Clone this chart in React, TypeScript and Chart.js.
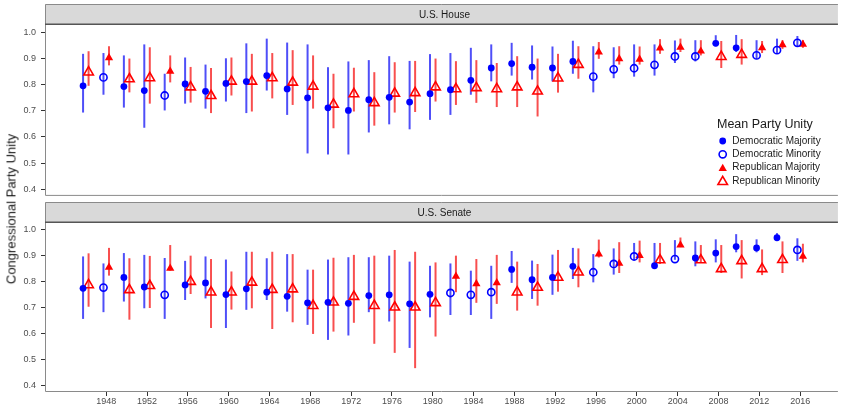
import React, { useEffect, useRef } from "react";
import { Chart, registerables } from "chart.js";

Chart.register(...registerables);

// ---------- DATA ----------
const years = [
  1946, 1948, 1950, 1952, 1954, 1956, 1958, 1960, 1962, 1964, 1966, 1968,
  1970, 1972, 1974, 1976, 1978, 1980, 1982, 1984, 1986, 1988, 1990, 1992,
  1994, 1996, 1998, 2000, 2002, 2004, 2006, 2008, 2010, 2012, 2014, 2016,
];
const xTickYears = [1948, 1952, 1956, 1960, 1964, 1968, 1972, 1976, 1980, 1984, 1988, 1992, 1996, 2000, 2004, 2008, 2012, 2016];
const yTickValues = [0.4, 0.5, 0.6, 0.7, 0.8, 0.9, 1.0];

// U.S. House
const houseDem = [0.795, 0.827, 0.792, 0.777, 0.758, 0.802, 0.774, 0.804, 0.811, 0.834, 0.783, 0.749, 0.711, 0.701, 0.742, 0.751, 0.733, 0.765, 0.780, 0.816, 0.863, 0.880, 0.866, 0.863, 0.888, 0.830, 0.858, 0.862, 0.875, 0.907, 0.907, 0.957, 0.940, 0.911, 0.931, 0.959];
const houseDemLo = [0.693, 0.761, 0.712, 0.635, 0.701, 0.727, 0.708, 0.735, 0.691, 0.777, 0.684, 0.537, 0.533, 0.533, 0.617, 0.648, 0.629, 0.665, 0.684, 0.761, 0.812, 0.834, 0.819, 0.812, 0.841, 0.770, 0.824, 0.830, 0.834, 0.882, 0.888, 0.946, 0.924, 0.898, 0.920, 0.946];
const houseDemHi = [0.917, 0.920, 0.911, 0.953, 0.841, 0.903, 0.876, 0.900, 0.957, 0.975, 0.960, 0.953, 0.866, 0.888, 0.893, 0.908, 0.890, 0.916, 0.920, 0.940, 0.953, 0.959, 0.949, 0.945, 0.967, 0.946, 0.942, 0.953, 0.953, 0.968, 0.969, 0.988, 0.989, 0.969, 0.975, 0.985];
const houseDemMajority = [1, 0, 1, 1, 0, 1, 1, 1, 1, 1, 1, 1, 1, 1, 1, 1, 1, 1, 1, 1, 1, 1, 1, 1, 1, 0, 0, 0, 0, 0, 0, 1, 1, 0, 0, 0];
const houseRep = [0.847, 0.902, 0.821, 0.825, 0.850, 0.790, 0.757, 0.812, 0.812, 0.825, 0.808, 0.793, 0.724, 0.764, 0.730, 0.766, 0.768, 0.790, 0.783, 0.787, 0.783, 0.790, 0.774, 0.824, 0.876, 0.924, 0.898, 0.896, 0.939, 0.942, 0.927, 0.906, 0.914, 0.940, 0.951, 0.953];
const houseRepLo = [0.795, 0.873, 0.770, 0.727, 0.808, 0.731, 0.691, 0.758, 0.697, 0.747, 0.722, 0.708, 0.633, 0.697, 0.643, 0.693, 0.695, 0.735, 0.722, 0.730, 0.714, 0.714, 0.678, 0.769, 0.822, 0.898, 0.876, 0.876, 0.917, 0.924, 0.911, 0.863, 0.876, 0.920, 0.936, 0.940];
const houseRepHi = [0.927, 0.946, 0.899, 0.942, 0.911, 0.867, 0.863, 0.903, 0.917, 0.920, 0.931, 0.911, 0.841, 0.864, 0.847, 0.885, 0.890, 0.899, 0.889, 0.893, 0.882, 0.908, 0.899, 0.917, 0.946, 0.962, 0.946, 0.945, 0.973, 0.975, 0.969, 0.966, 0.973, 0.966, 0.969, 0.969];

// U.S. Senate
const senateDem = [0.775, 0.778, 0.817, 0.780, 0.750, 0.788, 0.796, 0.751, 0.773, 0.760, 0.744, 0.719, 0.721, 0.717, 0.747, 0.750, 0.715, 0.752, 0.757, 0.750, 0.760, 0.848, 0.808, 0.817, 0.860, 0.837, 0.869, 0.898, 0.862, 0.888, 0.892, 0.911, 0.936, 0.931, 0.970, 0.923];
const senateDemLo = [0.657, 0.683, 0.724, 0.698, 0.657, 0.730, 0.736, 0.622, 0.692, 0.730, 0.685, 0.634, 0.576, 0.593, 0.683, 0.647, 0.545, 0.663, 0.672, 0.672, 0.657, 0.796, 0.734, 0.750, 0.811, 0.798, 0.828, 0.881, 0.858, 0.885, 0.860, 0.875, 0.914, 0.914, 0.963, 0.881];
const senateDemHi = [0.898, 0.871, 0.911, 0.904, 0.892, 0.881, 0.898, 0.886, 0.916, 0.891, 0.907, 0.847, 0.886, 0.895, 0.895, 0.901, 0.878, 0.862, 0.871, 0.843, 0.862, 0.919, 0.882, 0.905, 0.931, 0.907, 0.929, 0.950, 0.950, 0.961, 0.956, 0.964, 0.984, 0.964, 0.988, 0.968];
const senateDemMajority = [1, 0, 1, 1, 0, 1, 1, 1, 1, 1, 1, 1, 1, 1, 1, 1, 1, 1, 0, 0, 0, 1, 1, 1, 1, 0, 0, 0, 1, 0, 1, 1, 1, 1, 1, 0];
const senateRep = [0.788, 0.856, 0.769, 0.785, 0.852, 0.801, 0.760, 0.760, 0.798, 0.770, 0.772, 0.708, 0.721, 0.743, 0.708, 0.702, 0.702, 0.719, 0.821, 0.792, 0.796, 0.760, 0.778, 0.817, 0.837, 0.907, 0.871, 0.901, 0.884, 0.942, 0.884, 0.850, 0.881, 0.850, 0.885, 0.898];
const senateRepLo = [0.704, 0.824, 0.654, 0.699, 0.843, 0.753, 0.622, 0.693, 0.698, 0.618, 0.644, 0.599, 0.608, 0.642, 0.561, 0.526, 0.467, 0.589, 0.760, 0.719, 0.715, 0.689, 0.708, 0.762, 0.779, 0.894, 0.834, 0.875, 0.869, 0.934, 0.875, 0.834, 0.813, 0.826, 0.834, 0.875];
const senateRepHi = [0.910, 0.931, 0.891, 0.900, 0.942, 0.901, 0.888, 0.840, 0.916, 0.916, 0.907, 0.847, 0.893, 0.904, 0.901, 0.923, 0.916, 0.875, 0.901, 0.888, 0.904, 0.878, 0.869, 0.923, 0.929, 0.963, 0.953, 0.959, 0.950, 0.971, 0.942, 0.942, 0.961, 0.925, 0.956, 0.947];

const legendTitle = "Mean Party Unity";
const legendLabels = ["Democratic Majority", "Democratic Minority", "Republican Majority", "Republican Minority"];
const yAxisTitle = "Congressional Party Unity";

// ---------- STYLE ----------
const FONT = '"Liberation Sans", Arial, Helvetica, sans-serif';
const BLUE = "#0000ff";
const RED = "#ff0000";
const BLUE_BAR = "rgba(20,20,245,0.75)";
const RED_BAR = "rgba(245,20,20,0.75)";
const OFFSET = 0.27;
const X_MIN = 1942.0;
const X_MAX = 2019.7;
const Y_MIN = 0.375;
const Y_MAX = 1.027;

type Kind = "demMaj" | "demMin" | "repMaj" | "repMin";

function drawMarker(ctx: CanvasRenderingContext2D, kind: Kind, x: number, y: number) {
  ctx.save();
  ctx.beginPath();
  if (kind === "demMaj" || kind === "demMin") {
    const r = kind === "demMaj" ? 3.4 : 3.6;
    ctx.arc(x, y, r, 0, Math.PI * 2);
  } else {
    const r = kind === "repMaj" ? 4.8 : 5.5;
    ctx.moveTo(x, y - r);
    ctx.lineTo(x + 0.866 * r, y + 0.5 * r);
    ctx.lineTo(x - 0.866 * r, y + 0.5 * r);
    ctx.closePath();
  }
  const col = kind.startsWith("dem") ? BLUE : RED;
  if (kind.endsWith("Maj")) {
    ctx.fillStyle = col;
    ctx.fill();
  } else {
    ctx.strokeStyle = col;
    ctx.lineWidth = 1.6;
    ctx.stroke();
  }
  ctx.restore();
}

type PanelData = {
  title: string;
  dem: number[];
  demLo: number[];
  demHi: number[];
  demMaj: number[];
  rep: number[];
  repLo: number[];
  repHi: number[];
};

function makeChart(canvas: HTMLCanvasElement, d: PanelData, showX: boolean, showLegend: boolean) {
  const pick = (vals: number[], offset: number, cond: (i: number) => boolean) =>
    years.map((yr, i) => ({ x: yr + offset, y: vals[i], keep: cond(i) })).filter((p) => p.keep).map((p) => ({ x: p.x, y: p.y }));

  const datasets: any[] = [
    {
      data: pick(d.dem, -OFFSET, (i) => d.demMaj[i] === 1),
      pointStyle: "circle", pointRadius: 3.4, backgroundColor: BLUE, borderColor: BLUE, borderWidth: 0,
    },
    {
      data: pick(d.dem, -OFFSET, (i) => d.demMaj[i] === 0),
      pointStyle: "circle", pointRadius: 3.6, backgroundColor: "rgba(0,0,0,0)", borderColor: BLUE, borderWidth: 1.6,
    },
    {
      data: pick(d.rep, OFFSET, (i) => d.demMaj[i] === 0),
      pointStyle: "triangle", pointRadius: 4.8, backgroundColor: RED, borderColor: RED, borderWidth: 0,
    },
    {
      data: pick(d.rep, OFFSET, (i) => d.demMaj[i] === 1),
      pointStyle: "triangle", pointRadius: 5.5, backgroundColor: "rgba(0,0,0,0)", borderColor: RED, borderWidth: 1.6,
    },
  ];

  const panelPlugin = {
    id: "panel",
    beforeDraw(chart: any) {
      const { ctx, chartArea } = chart;
      const top = showX ? 2 : 4;
      ctx.save();
      ctx.fillStyle = "#d9d9d9";
      ctx.fillRect(chartArea.left, top, chartArea.right - chartArea.left, chartArea.top - top);
      ctx.strokeStyle = "#8a8a8a";
      ctx.lineWidth = 1;
      ctx.beginPath();
      ctx.moveTo(chartArea.left + 0.5, chartArea.top);
      ctx.lineTo(chartArea.left + 0.5, top + 0.5);
      ctx.lineTo(chartArea.right, top + 0.5);
      ctx.stroke();
      ctx.strokeStyle = "#555555";
      ctx.lineWidth = 1.6;
      ctx.beginPath();
      ctx.moveTo(chartArea.left, chartArea.top - 0.8);
      ctx.lineTo(chartArea.right, chartArea.top - 0.8);
      ctx.stroke();
      ctx.fillStyle = "#1a1a1a";
      ctx.font = `10px ${FONT}`;
      ctx.textAlign = "center";
      ctx.textBaseline = "middle";
      ctx.fillText(d.title, (chartArea.left + chartArea.right) / 2 + 3, (top + chartArea.top) / 2 + 0.5);
      ctx.restore();
    },
    beforeDatasetsDraw(chart: any) {
      const { ctx } = chart;
      const xs = chart.scales.x;
      const ys = chart.scales.y;
      ctx.save();
      ctx.lineWidth = 2;
      ctx.lineCap = "butt";
      years.forEach((yr, i) => {
        const xd = xs.getPixelForValue(yr - OFFSET);
        ctx.strokeStyle = BLUE_BAR;
        ctx.beginPath();
        ctx.moveTo(xd, ys.getPixelForValue(d.demLo[i]));
        ctx.lineTo(xd, ys.getPixelForValue(d.demHi[i]));
        ctx.stroke();
        const xr = xs.getPixelForValue(yr + OFFSET);
        ctx.strokeStyle = RED_BAR;
        ctx.beginPath();
        ctx.moveTo(xr, ys.getPixelForValue(d.repLo[i]));
        ctx.lineTo(xr, ys.getPixelForValue(d.repHi[i]));
        ctx.stroke();
      });
      ctx.restore();
    },
    afterDraw(chart: any) {
      const { ctx, chartArea } = chart;
      ctx.save();
      ctx.strokeStyle = "#8a8a8a";
      ctx.lineWidth = 1;
      ctx.beginPath();
      ctx.moveTo(chartArea.left + 0.5, chartArea.top);
      ctx.lineTo(chartArea.left + 0.5, chartArea.bottom - 0.5);
      ctx.lineTo(chartArea.right, chartArea.bottom - 0.5);
      ctx.stroke();
      if (showLegend) {
        ctx.fillStyle = "#1a1a1a";
        ctx.textBaseline = "middle";
        ctx.textAlign = "left";
        ctx.font = `12.5px ${FONT}`;
        ctx.fillText(legendTitle, 717, 125);
        ctx.font = `10px ${FONT}`;
        const kinds: Kind[] = ["demMaj", "demMin", "repMaj", "repMin"];
        const rowsY = [141, 154.3, 167.7, 181];
        kinds.forEach((k, i) => {
          const yOff = k.startsWith("rep") ? 0.8 : 0;
          drawMarker(ctx, k, 722.7, rowsY[i] + yOff);
          ctx.fillStyle = "#1a1a1a";
          ctx.fillText(legendLabels[i], 732.3, rowsY[i]);
        });
      }
      ctx.restore();
    },
  };

  return new Chart(canvas, {
    type: "scatter",
    data: { datasets },
    plugins: [panelPlugin],
    options: {
      animation: false,
      responsive: false,
      maintainAspectRatio: false,
      devicePixelRatio: 1,
      events: [],
      layout: { padding: { left: 0, right: 0, top: showX ? 23 : 25, bottom: showX ? 0 : 2 } },
      plugins: { legend: { display: false }, tooltip: { enabled: false } },
      elements: { point: { hoverRadius: 0 } },
      scales: {
        x: {
          type: "linear",
          display: showX,
          min: X_MIN,
          max: X_MAX,
          afterBuildTicks: (s: any) => {
            s.ticks = xTickYears.map((v) => ({ value: v }));
          },
          afterFit: (s: any) => {
            s.height = showX ? 14 : 0;
            s.paddingLeft = 0;
            s.paddingRight = 0;
          },
          grid: { display: true, drawOnChartArea: false, drawTicks: true, tickLength: 4, color: "#333333" },
          border: { display: false },
          ticks: {
            padding: 0,
            color: "#4d4d4d",
            font: { family: FONT, size: 9 },
            maxRotation: 0,
            autoSkip: false,
            callback: (v: any) => String(v),
          },
        },
        y: {
          type: "linear",
          min: Y_MIN,
          max: Y_MAX,
          afterBuildTicks: (s: any) => {
            s.ticks = yTickValues.map((v) => ({ value: v }));
          },
          afterFit: (s: any) => {
            s.width = 45;
            s.paddingTop = 0;
            s.paddingBottom = 0;
          },
          grid: { display: true, drawOnChartArea: false, drawTicks: true, tickLength: 4, color: "#333333" },
          border: { display: false },
          ticks: {
            padding: 5,
            color: "#4d4d4d",
            font: { family: FONT, size: 9 },
            autoSkip: false,
            callback: (v: any) => Number(v).toFixed(1),
          },
        },
      },
    } as any,
  });
}

const houseData: PanelData = {
  title: "U.S. House",
  dem: houseDem, demLo: houseDemLo, demHi: houseDemHi, demMaj: houseDemMajority,
  rep: houseRep, repLo: houseRepLo, repHi: houseRepHi,
};
const senateData: PanelData = {
  title: "U.S. Senate",
  dem: senateDem, demLo: senateDemLo, demHi: senateDemHi, demMaj: senateDemMajority,
  rep: senateRep, repLo: senateRepLo, repHi: senateRepHi,
};

export default function App() {
  const houseRef = useRef<HTMLCanvasElement>(null);
  const senateRef = useRef<HTMLCanvasElement>(null);

  useEffect(() => {
    const c1 = makeChart(houseRef.current!, houseData, false, true);
    const c2 = makeChart(senateRef.current!, senateData, true, false);
    return () => {
      c1.destroy();
      c2.destroy();
    };
  }, []);

  return (
    <div style={{ position: "absolute", left: 0, top: 0, width: 845, height: 406, background: "#ffffff", overflow: "hidden" }}>
      <canvas ref={houseRef} width={845} height={203} style={{ position: "absolute", left: 0, top: 0, width: 845, height: 203 }} />
      <canvas ref={senateRef} width={845} height={206} style={{ position: "absolute", left: 0, top: 200, width: 845, height: 206 }} />
      <div
        style={{
          position: "absolute",
          left: 11,
          top: 209,
          transform: "translate(-50%, -50%) rotate(-90deg)",
          whiteSpace: "nowrap",
          fontFamily: FONT,
          fontSize: 13,
          fontWeight: 400,
          color: "#1a1a1a",
          lineHeight: "15px",
        }}
      >
        {yAxisTitle}
      </div>
    </div>
  );
}
